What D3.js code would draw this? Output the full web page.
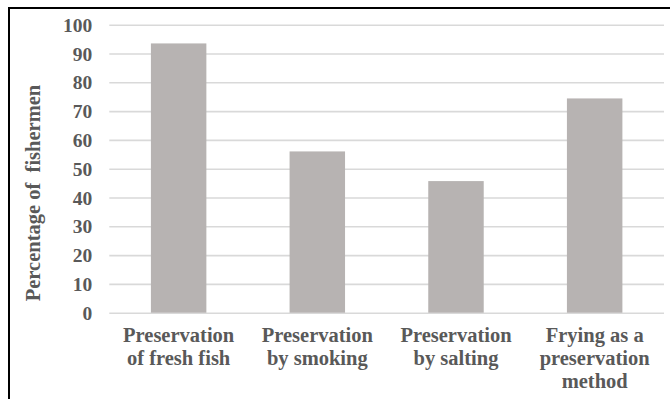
<!DOCTYPE html>
<html>
<head>
<meta charset="utf-8">
<script src="https://cdn.jsdelivr.net/npm/d3@7"></script>
<style>
  html, body { margin: 0; padding: 0; background: #ffffff; }
  svg { display: block; }
</style>
</head>
<body>
<svg id="chart" width="670" height="399"></svg>
<script>
// Preservation methods used by fishermen (% of respondents)
const categories = [
  "Preservation|of fresh fish",
  "Preservation|by smoking",
  "Preservation|by salting",
  "Frying as a|preservation|method"
];
const percentages = [93.5, 56, 45.7, 74.4];
const yTicks = [0, 10, 20, 30, 40, 50, 60, 70, 80, 90, 100];
const yTitle = "Percentage of  fishermen";

const FONT = "'Liberation Serif', 'Times New Roman', serif";
const INK = "#595959";

const svg = d3.select("#chart");
const W = 670, H = 399;
const margin = { top: 24.7, right: 6, bottom: 86.3, left: 109.3 };
const plotW = W - margin.left - margin.right;
const plotH = H - margin.top - margin.bottom;

// Frame around the chart area (only top and left edges fall inside the canvas)
svg.append("rect")
  .attr("x", 9).attr("y", 8)
  .attr("width", W + 20).attr("height", H + 20)
  .attr("fill", "none").attr("stroke", "#000").attr("stroke-width", 2);

const g = svg.append("g").attr("transform", `translate(${margin.left},${margin.top})`);

const x = d3.scaleBand()
  .domain(categories)
  .range([0, plotW])
  .paddingInner(0.6)
  .paddingOuter(0.3);

const y = d3.scaleLinear().domain([0, 100]).range([plotH, 0]);

// Horizontal gridlines
const grid = g.append("g")
  .call(d3.axisLeft(y).tickValues(yTicks).tickSize(-plotW).tickFormat(""));
grid.select(".domain").remove();
grid.selectAll(".tick line").attr("stroke", "#d9d9d9").attr("stroke-width", 1.6);

// Y tick labels
const yAxis = g.append("g")
  .call(d3.axisLeft(y).tickValues(yTicks).tickSize(0).tickPadding(17).tickFormat(d3.format("d")));
yAxis.select(".domain").remove();
yAxis.attr("font-family", FONT).attr("font-weight", "bold");
yAxis.selectAll(".tick text")
  .attr("font-size", 19.5)
  .attr("dy", "0.34em")
  .attr("fill", INK);

// Bars
g.selectAll("rect.bar")
  .data(percentages)
  .join("rect")
  .attr("class", "bar")
  .attr("x", (d, i) => x(categories[i]))
  .attr("width", x.bandwidth())
  .attr("y", d => y(d))
  .attr("height", d => plotH - y(d))
  .attr("fill", "#b7b3b2");

// X category labels (multi-line)
const xAxis = g.append("g")
  .attr("transform", `translate(0,${plotH})`)
  .call(d3.axisBottom(x).tickSize(0).tickFormat(""));
xAxis.select(".domain").remove();
xAxis.attr("font-family", FONT).attr("font-weight", "bold");
xAxis.selectAll(".tick").each(function (d) {
  const t = d3.select(this).append("text")
    .attr("text-anchor", "middle")
    .attr("font-size", 20.5)
    .attr("fill", INK);
  d.split("|").forEach((line, k) => {
    t.append("tspan").attr("x", 0).attr("y", 29.3 + k * 23).text(line);
  });
});

// Y axis title
svg.append("text")
  .attr("transform", "translate(40,193) rotate(-90)")
  .attr("text-anchor", "middle")
  .attr("font-family", FONT)
  .attr("font-weight", "bold")
  .attr("font-size", 20.5)
  .attr("fill", INK)
  .style("white-space", "pre")
  .text(yTitle);
</script>
</body>
</html>
